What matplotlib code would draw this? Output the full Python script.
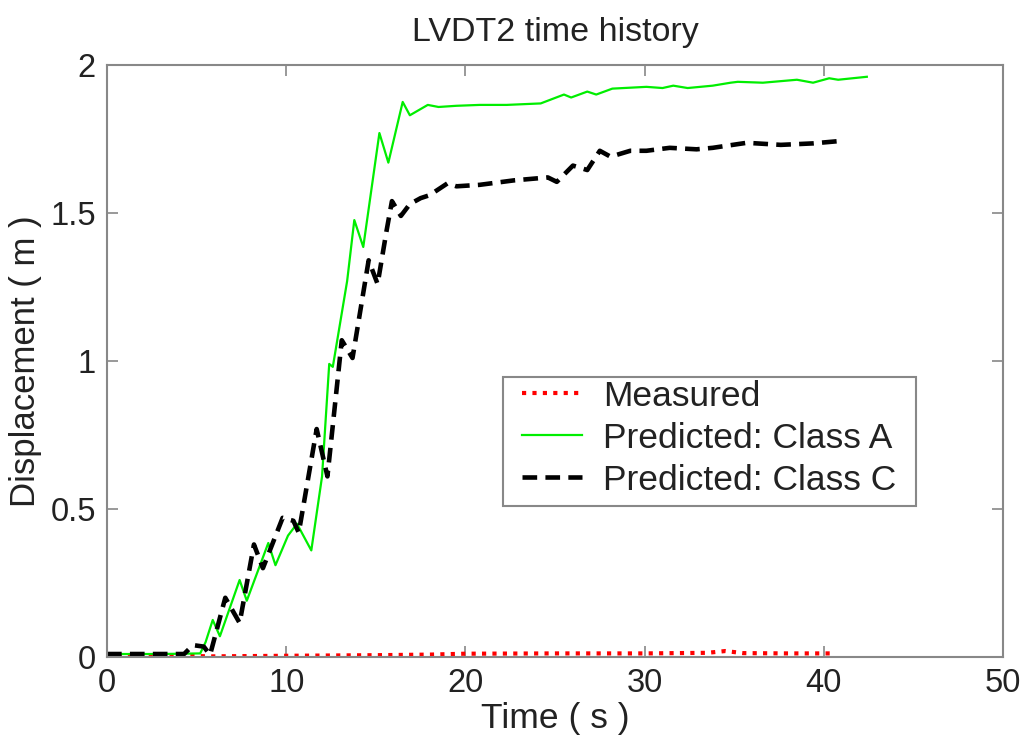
import matplotlib
matplotlib.use("Agg")
import matplotlib.pyplot as plt
from matplotlib.patches import Rectangle

plt.rcParams["font.family"] = ["Liberation Sans", "DejaVu Sans"]

# measured (red dotted)
t_meas = [0, 5, 5.8, 10, 15, 18, 20, 25, 30, 33.5, 34.5, 35.5, 38, 40.5]
d_meas = [0.003, 0.003, 0.002, 0.004, 0.006, 0.008, 0.011, 0.012, 0.012, 0.014, 0.02, 0.013, 0.012, 0.012]

# predicted class A (green)
t_a = [0, 3, 5.2, 5.5, 5.9, 6.3, 7.4, 7.8, 9.0, 9.4, 10.1, 10.6, 11.4, 12.0, 12.4, 12.6,
       13.4, 13.8, 14.3, 15.2, 15.7, 16.5, 16.9, 17.9, 18.5, 19.5, 20.8, 22.3, 24.2, 25.5,
       25.9, 26.8, 27.3, 28.2, 30.1, 31.0, 31.6, 32.4, 33.8, 34.8, 35.2, 36.6, 38.5, 39.4,
       40.3, 40.8, 42.4]
d_a = [0.01, 0.01, 0.012, 0.05, 0.125, 0.07, 0.26, 0.19, 0.385, 0.31, 0.41, 0.45, 0.36, 0.61, 0.99, 0.98,
       1.27, 1.476, 1.385, 1.77, 1.67, 1.875, 1.83, 1.865, 1.858, 1.862, 1.865, 1.865, 1.87, 1.9,
       1.89, 1.91, 1.9, 1.92, 1.926, 1.922, 1.93, 1.922, 1.93, 1.94, 1.943, 1.94, 1.95, 1.94,
       1.955, 1.95, 1.96]

# predicted class C (black dashed)
t_c = [0, 4.3, 4.8, 5.4, 5.75, 6.6, 7.4, 8.2, 8.7, 9.8, 10.4, 10.7, 11.7, 12.3, 13.1, 13.7,
       14.6, 15.1, 15.6, 15.9, 16.4, 16.9, 17.5, 18.0, 19.0, 19.5, 20.8, 22.7, 24.6, 25.1,
       26.0, 26.8, 27.5, 28.1, 29.2, 30.1, 31.4, 32.9, 33.8, 35.7, 37.6, 39.4, 40.9]
d_c = [0.01, 0.01, 0.04, 0.035, 0.007, 0.2, 0.115, 0.38, 0.30, 0.47, 0.46, 0.42, 0.77, 0.61, 1.07, 1.01,
       1.34, 1.26, 1.44, 1.54, 1.49, 1.53, 1.55, 1.56, 1.60, 1.59, 1.595, 1.61, 1.62, 1.605,
       1.66, 1.645, 1.71, 1.69, 1.71, 1.71, 1.72, 1.715, 1.72, 1.737, 1.73, 1.735, 1.743]

txt = "#222222"

fig = plt.figure(figsize=(10.26, 7.38), dpi=100)
ax = fig.add_axes([0.1043, 0.1098, 0.8733, 0.8022])

ax.plot(t_meas, d_meas, color="red", linestyle=(0, (1, 1.5)), linewidth=3, label="Measured")
ax.plot(t_a, d_a, color="#00ee00", linewidth=1.6, label="Predicted: Class A",
        solid_joinstyle="round")
ax.plot(t_c, d_c, color="black", linestyle=(0, (3.2, 1.8)), linewidth=3.3, label="Predicted: Class C")

ax.set_xlim(0, 50)
ax.set_ylim(0, 2)
ax.set_xticks([0, 10, 20, 30, 40, 50])
ax.set_yticks([0, 0.5, 1, 1.5, 2])
ax.set_yticklabels(["0", "0.5", "1", "1.5", "2"])

for s in ax.spines.values():
    s.set_color("#888888")
    s.set_linewidth(1.5)
ax.tick_params(direction="in", length=8, width=1.2, color="#888888", labelcolor=txt,
               top=True, right=True, labelsize=23.5, pad=8)

ax.set_title("LVDT2 time history", fontsize=24.5, pad=17, color=txt)
ax.set_xlabel("Time ( s )", fontsize=25.5, labelpad=2, color=txt)
ax.set_ylabel("Displacement ( m )", fontsize=25, labelpad=6, color=txt)

leg = ax.legend(loc="lower left", bbox_to_anchor=(0.457, 0.262), fontsize=25.5,
                frameon=False, handlelength=1.7, handletextpad=0.6,
                borderpad=0.15, labelspacing=0.25, borderaxespad=0)
for t in leg.get_texts():
    t.set_color(txt)

# legend frame with wider side padding, like the original
fig.canvas.draw()
bb = leg.get_window_extent()
frame = Rectangle((bb.x0 - 13, bb.y0 - 4), bb.width + 13 + 14, bb.height + 2,
                  transform=None, facecolor="white", edgecolor="#888888",
                  linewidth=1.5, zorder=4)
fig.patches.append(frame)
frame.set_figure(fig)
leg.set_zorder(5)
fig.add_artist(leg)

fig.savefig("out.png", dpi=100)
